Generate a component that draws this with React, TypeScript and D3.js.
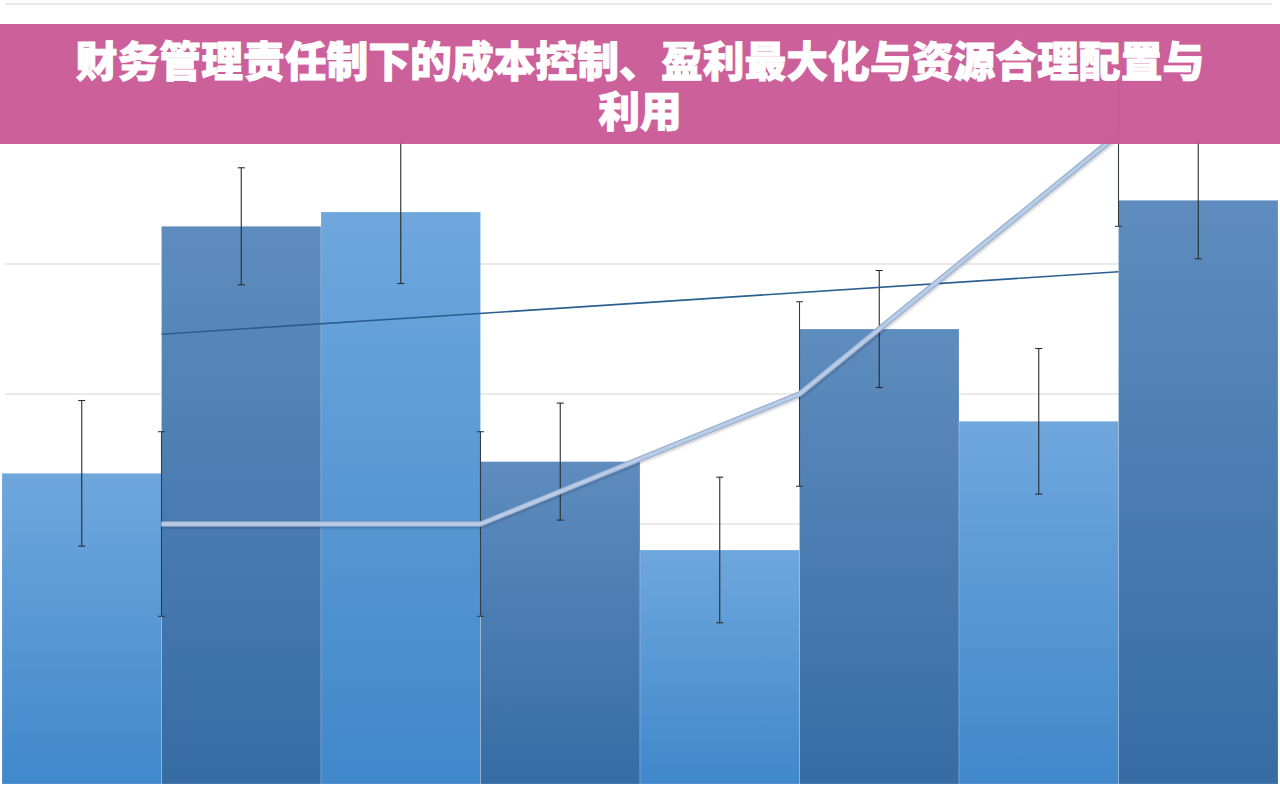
import React, { useEffect, useRef } from 'react';
import * as d3 from 'd3';

// bar series (8 categories)
const barCategories = ['类别1', '类别2', '类别3', '类别4', '类别5', '类别6', '类别7', '类别8'];
const barValues = [2.39, 4.29, 4.4, 2.48, 1.8, 3.5, 2.79, 4.49];
const barErrors = [0.56, 0.45, 0.55, 0.45, 0.56, 0.45, 0.56, 0.45];

// line series on secondary category axis (4 categories)
const lineCategories = ['阶段1', '阶段2', '阶段3', '阶段4'];
const lineValues = [2, 2, 3, 5];
const lineErrors = [0.71, 0.71, 0.71, 0.71];

// linear trendline, first and last category
const trendValues = [3.46, 3.94];

const yTicks = [0, 1, 2, 3, 4, 5, 6];

const titleLines = ['财务管理责任制下的成本控制、盈利最大化与资源合理配置与', '利用'];

const W = 1280;
const H = 785;

const App: React.FC = () => {
  const svgRef = useRef<SVGSVGElement>(null);

  useEffect(() => {
    if (!svgRef.current) return;
    const svg = d3.select(svgRef.current);
    svg.selectAll('*').remove();

    const plot = { left: 2, right: 1278, top: 4, bottom: 784 };

    const x = d3.scaleBand<string>().domain(barCategories).range([plot.left, plot.right]).padding(0);
    const x2 = d3.scaleBand<string>().domain(lineCategories).range([plot.left, plot.right]).padding(0);
    const y = d3.scaleLinear().domain([0, 6]).range([plot.bottom, plot.top]);

    const defs = svg.append('defs');
    const mkGrad = (id: string, top: string, bottom: string) => {
      const g = defs.append('linearGradient').attr('id', id).attr('x1', 0).attr('y1', 0).attr('x2', 0).attr('y2', 1);
      g.append('stop').attr('offset', '0%').attr('stop-color', top);
      g.append('stop').attr('offset', '100%').attr('stop-color', bottom);
    };
    mkGrad('gLight', '#6fa7dd', '#4088cb');
    mkGrad('gDark', '#5e8cbe', '#366ca4');

    const shadow = defs.append('filter').attr('id', 'lineShadow').attr('x', '-5%').attr('y', '-5%').attr('width', '110%').attr('height', '120%');
    shadow.append('feDropShadow').attr('dx', 1).attr('dy', 1.5).attr('stdDeviation', 1.2).attr('flood-color', '#000').attr('flood-opacity', 0.2);

    svg.append('rect').attr('width', W).attr('height', H).attr('fill', '#ffffff');

    // gridlines
    svg.append('g')
      .selectAll('line')
      .data(yTicks.filter((t) => t > 0))
      .enter()
      .append('line')
      .attr('x1', plot.left + 3)
      .attr('x2', plot.right - 6)
      .attr('y1', (d) => y(d))
      .attr('y2', (d) => y(d))
      .attr('stroke', '#d6d6d6')
      .attr('stroke-width', 1.2);

    // bars
    svg.append('g')
      .selectAll('rect')
      .data(barValues)
      .enter()
      .append('rect')
      .attr('x', (_, i) => x(barCategories[i])!)
      .attr('y', (d) => y(d))
      .attr('width', x.bandwidth())
      .attr('height', (d) => y(0) - y(d))
      .attr('fill', (_, i) => (i % 2 === 0 ? 'url(#gLight)' : 'url(#gDark)'))
      .attr('stroke', 'rgba(255,255,255,0.2)')
      .attr('stroke-width', 1);

    // error bars helper
    const drawErr = (g: d3.Selection<SVGGElement, unknown, null, undefined>, cx: number, v: number, e: number, color: string) => {
      const y1 = y(v + e);
      const y2 = y(v - e);
      g.append('line').attr('x1', cx).attr('x2', cx).attr('y1', y1).attr('y2', y2).attr('stroke', color).attr('stroke-width', 1.1);
      [y1, y2].forEach((yy) => {
        g.append('line').attr('x1', cx - 3.5).attr('x2', cx + 3.5).attr('y1', yy).attr('y2', yy).attr('stroke', color).attr('stroke-width', 1.1);
      });
    };

    const errG = svg.append('g');
    barValues.forEach((v, i) => {
      drawErr(errG, x(barCategories[i])! + x.bandwidth() / 2, v, barErrors[i], '#2b2b2b');
    });
    lineValues.forEach((v, i) => {
      drawErr(errG, x2(lineCategories[i])! + x2.bandwidth() / 2, v, lineErrors[i], '#363c46');
    });

    // trendline
    const cFirst = x2(lineCategories[0])! + x2.bandwidth() / 2;
    const cLast = x2(lineCategories[lineCategories.length - 1])! + x2.bandwidth() / 2;
    svg.append('line')
      .attr('x1', cFirst)
      .attr('x2', cLast)
      .attr('y1', y(trendValues[0]))
      .attr('y2', y(trendValues[1]))
      .attr('stroke', '#2a5f8f')
      .attr('stroke-width', 1.6);

    // line series
    const lineGen = d3.line<number>()
      .x((_, i) => x2(lineCategories[i])! + x2.bandwidth() / 2)
      .y((d) => y(d));
    svg.append('path')
      .datum(lineValues)
      .attr('d', lineGen)
      .attr('fill', 'none')
      .attr('stroke', '#94abcc')
      .attr('stroke-width', 5.5)
      .attr('stroke-linejoin', 'round')
      .attr('filter', 'url(#lineShadow)');
    svg.append('path')
      .datum(lineValues)
      .attr('d', lineGen)
      .attr('fill', 'none')
      .attr('stroke', '#b8cce8')
      .attr('stroke-width', 3.5)
      .attr('stroke-linejoin', 'round');

    // title band
    svg.append('rect')
      .attr('x', 0)
      .attr('y', 24)
      .attr('width', W)
      .attr('height', 120)
      .attr('fill', '#c95796')
      .attr('fill-opacity', 0.95);

    titleLines.forEach((t, i) => {
      svg.append('text')
        .attr('x', W / 2)
        .attr('y', 77 + i * 50)
        .attr('text-anchor', 'middle')
        .attr('fill', '#ffffff')
        .attr('stroke', '#ffffff')
        .attr('stroke-width', 0.9)
        .attr('font-family', '"Noto Sans CJK SC", "Noto Sans", sans-serif')
        .attr('font-weight', 900)
        .attr('font-size', 41.8)
        .text(t);
    });
  }, []);

  return (
    <div style={{ position: 'fixed', left: 0, top: 0, width: W, height: H }}>
      <svg ref={svgRef} width={W} height={H} style={{ display: 'block' }} />
    </div>
  );
};

export default App;
